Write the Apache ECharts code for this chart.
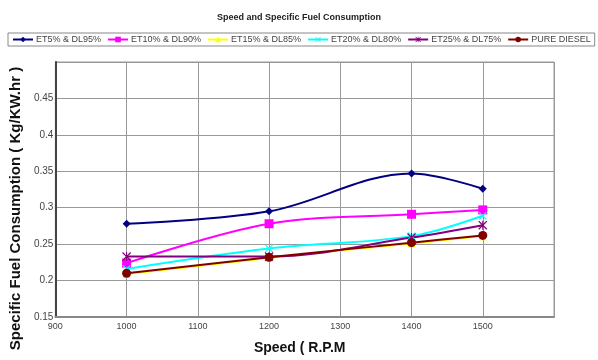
<!DOCTYPE html>
<html>
<head>
<meta charset="UTF-8">
<title>Speed and Specific Fuel Consumption</title>
<style>
html, body { margin: 0; padding: 0; background: #fff; }
#main { width: 598px; height: 360px; }
</style>
</head>
<body>
<div id="main"></div>
<script src="https://cdn.jsdelivr.net/npm/echarts@6/dist/echarts.min.js"></script>
<script>
// speed in R.P.M
var speed = [1000, 1200, 1400, 1500];
// specific fuel consumption, Kg/KW.hr
var et5 = [0.278, 0.295, 0.347, 0.326];
var et10 = [0.224, 0.278, 0.291, 0.297];
var et15 = [0.209, 0.231, 0.251, 0.261];
var et20 = [0.216, 0.244, 0.261, 0.289];
var et25 = [0.233, 0.233, 0.259, 0.276];
var pureDiesel = [0.210, 0.232, 0.252, 0.262];

var names = ['ET5% & DL95%', 'ET10% & DL90%', 'ET15% & DL85%', 'ET20% & DL80%', 'ET25% & DL75%', 'PURE DIESEL'];
var colors = ['#000080', '#ff00ff', '#ffff00', '#00ffff', '#800080', '#800000'];
var xMark = 'path://M0,1L1,0L5,4L9,0L10,1L6,5L10,9L9,10L5,6L1,10L0,9L4,5Z';
var starMark = 'path://M0,1L1,0L5,4L9,0L10,1L6,5L10,9L9,10L5,6L1,10L0,9L4,5Z M4.4,0L5.6,0L5.6,10L4.4,10Z';
var symbols = ['diamond', 'rect', 'triangle', xMark, starMark, 'circle'];
var sizes = [8, 9, 8, 8, 9, 9];
var allData = [et5, et10, et15, et20, et25, pureDiesel];

function pairs(arr) {
	var out = [];
	for (var i = 0; i < speed.length; i++) {
		out.push([speed[i], arr[i]]);
	}
	return out;
}

var series = [];
for (var i = 0; i < names.length; i++) {
	series.push({
		name: names[i],
		type: 'line',
		smooth: 0.35,
		data: pairs(allData[i]),
		symbol: symbols[i],
		symbolSize: sizes[i],
		lineStyle: { color: colors[i], width: 2 },
		itemStyle: { color: colors[i] }
	});
}

var myChart = echarts.init(document.getElementById('main'));
var option = {
	animation: false,
	title: {
		text: 'Speed and Specific Fuel Consumption',
		left: 'center',
		top: 8,
		textStyle: { fontFamily: 'Liberation Sans', fontSize: 9, fontWeight: 'bold', color: '#222' }
	},
	legend: {
		data: names,
		left: 8,
		top: 33,
		width: 800,
		padding: [2, 4],
		itemGap: 6,
		itemWidth: 20,
		itemHeight: 7,
		borderColor: '#888',
		borderWidth: 1,
		textStyle: { fontFamily: 'Liberation Sans', fontSize: 9, color: '#444', padding: [0, 0, 0, -2] }
	},
	grid: {
		left: 54,
		right: 44,
		top: 62,
		bottom: 40,
		show: true,
		borderColor: '#999',
		borderWidth: 1
	},
	xAxis: {
		type: 'value',
		min: 900,
		max: 1600,
		interval: 100,
		name: 'Speed ( R.P.M',
		nameLocation: 'middle',
		nameGap: 24,
		nameTextStyle: { fontFamily: 'Liberation Sans', fontSize: 14, fontWeight: 'bold', color: '#111', padding: [0, 10, 0, 0] },
		axisLine: { lineStyle: { color: '#888', width: 2 } },
		axisTick: { show: false },
		axisLabel: {
			fontFamily: 'Liberation Sans', fontSize: 9, color: '#444', margin: 5,
			showMaxLabel: false,
			formatter: function (v) { return String(v); }
		},
		splitLine: { show: true, lineStyle: { color: '#999', width: 1 } }
	},
	yAxis: {
		type: 'value',
		min: 0.15,
		max: 0.5,
		interval: 0.05,
		name: 'Specific Fuel Consumption ( Kg/KW.hr )',
		nameLocation: 'middle',
		nameRotate: 90,
		nameGap: 31,
		nameTextStyle: { fontFamily: 'Liberation Sans', fontSize: 15, fontWeight: 'bold', color: '#111', padding: [0, 38, 0, 0] },
		axisLine: { show: true, lineStyle: { color: '#444', width: 2 } },
		axisTick: { show: false },
		axisLabel: {
			fontFamily: 'Liberation Sans', fontSize: 10, color: '#444', margin: 2,
			showMaxLabel: false,
			formatter: function (v) { return String(Math.round(v * 100) / 100); }
		},
		splitLine: { show: true, lineStyle: { color: '#999', width: 1 } }
	},
	series: series
};
myChart.setOption(option);
</script>
</body>
</html>
